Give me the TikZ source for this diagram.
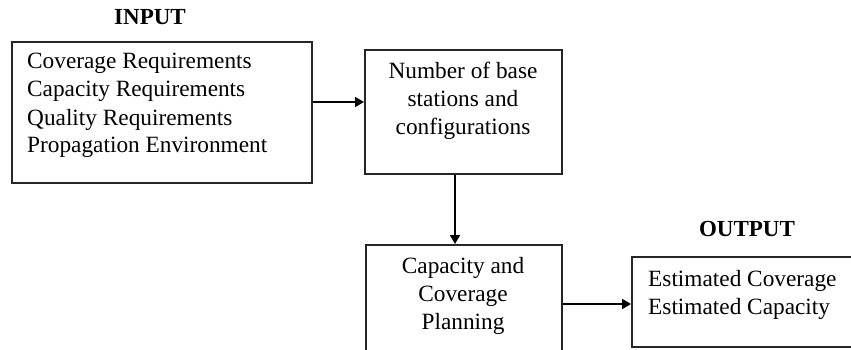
\documentclass[tikz,border=0pt]{standalone}
\usepackage{fontspec}
\setmainfont{Liberation Serif}
\usetikzlibrary{arrows.meta}
\begin{document}
\begin{tikzpicture}[x=1pt,y=-1pt,
  box/.style={draw=black!85, line width=2pt, rectangle, inner sep=0pt},
  txt/.style={inner sep=0pt, font=\fontsize{23.3}{28}\selectfont},
  lbl/.style={inner sep=0pt, font=\fontsize{23}{28}\selectfont\bfseries},
  arr/.style={line width=1.8pt, -{Triangle[length=9pt,width=10pt]}}]
\useasboundingbox[fill=white] (0,0) rectangle (851,350);
% boxes
\node[box, minimum width=300pt, minimum height=141pt] (inp) at (162,112.5) {};
\node[box, minimum width=197pt, minimum height=124pt] (nbs) at (463.5,112) {};
\node[box, minimum width=196pt, minimum height=117pt] (ccp) at (464,303.5) {};
\node[box, minimum width=223pt, minimum height=90pt] (out) at (743.5,302) {};
% labels
\node[lbl, anchor=base] (inlbl) at (150,25) {INPUT};
\node[lbl, anchor=base] (outlbl) at (747,236) {OUTPUT};
% texts (base anchor = baseline of the last line)
\node[txt, anchor=base west, align=left] (t1) at (27,153) {Coverage Requirements\\Capacity Requirements\\Quality Requirements\\Propagation Environment};
\node[txt, anchor=base, align=center] (t2) at (463,135) {Number of base\\stations and\\configurations};
\node[txt, anchor=base, align=center] (t3) at (463,329) {Capacity and\\Coverage\\Planning};
\node[txt, anchor=base west, align=left] (t4) at (648,314) {Estimated Coverage\\Estimated Capacity};
% connectors
\coordinate (y1) at (0,102);
\coordinate (x2) at (455,0);
\coordinate (y3) at (0,304);
\draw[arr] (inp.east |- y1) -- (nbs.west |- y1);
\draw[arr] (nbs.south -| x2) -- (ccp.north -| x2);
\draw[arr] (ccp.east |- y3) -- (out.west |- y3);
\end{tikzpicture}
\end{document}
